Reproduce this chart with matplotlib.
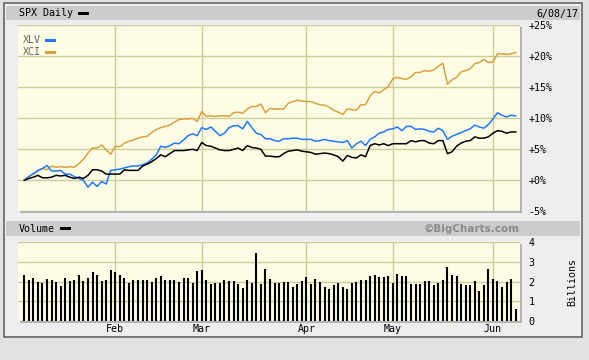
import matplotlib
matplotlib.use("Agg")
import matplotlib.pyplot as plt
from matplotlib.patches import Rectangle

# daily % change since Jan 3 2017, one value per trading day (109 days)
xci = [0, 0.6, 1.0, 1.5, 1.9, 1.7, 2.3, 2.1, 2.2, 2.1, 2.2, 2.1, 2.7, 3.4, 4.4, 5.2, 5.2, 5.7, 4.9, 4.2,
       5.5, 5.4, 6.0, 6.3, 6.5, 6.8, 7.0, 7.1, 7.7,
       8.2, 8.5, 8.7, 8.9, 9.4, 9.8, 9.9, 9.9, 10.0, 9.5, 11.1, 10.3, 10.4, 10.3, 10.4, 10.4, 10.3, 10.9,
       11.0, 10.8, 11.5, 11.9, 11.9, 12.3, 10.9, 11.6, 11.5, 11.5,
       11.5, 12.4, 12.7, 12.9, 12.8, 12.7, 12.7, 12.4, 12.2, 12.1, 11.8, 11.3, 11.0, 10.6, 11.5, 11.4,
       11.3, 12.2, 12.2, 13.6, 14.3, 14.1, 14.6, 15.1, 16.4, 16.6,
       16.4, 16.3, 16.7, 17.4, 17.4, 17.7, 17.6, 17.8, 18.4, 18.9, 15.5, 16.2, 16.6, 17.5, 17.7, 18.0,
       18.8, 19.0, 19.5, 19.0, 19.1, 20.4, 20.4, 20.3, 20.4, 20.6]
xlv = [0, 0.6, 1.1, 1.6, 1.9, 2.4, 1.5, 1.5, 1.6, 1.0, 1.0, 0.6, 0.3, 0.0, -1.1, -0.3, -1.0, -0.2, -0.6, 1.6,
       1.7, 1.8, 2.0, 2.2, 2.3, 2.3, 2.5, 2.8, 3.4,
       4.1, 5.5, 5.3, 5.6, 6.0, 5.9, 6.5, 7.2, 7.5, 7.2, 8.5, 8.2, 8.6, 7.9, 7.2, 7.6, 8.5, 8.8, 8.8,
       8.3, 9.5, 8.5, 7.6, 7.4, 6.7, 6.7, 6.4, 6.3,
       6.7, 6.7, 6.8, 6.8, 6.6, 6.6, 6.6, 6.3, 6.4, 6.6, 6.4, 6.3, 6.2, 6.1, 6.4, 5.2, 5.9, 6.3, 5.6,
       6.6, 7.0, 7.6, 7.8, 8.2, 8.3, 8.6,
       8.0, 8.7, 8.7, 8.2, 8.3, 8.2, 7.9, 7.8, 8.4, 8.0, 6.6, 7.1, 7.4, 7.7, 8.0, 8.3, 8.9, 8.6, 8.4,
       9.0, 9.9, 10.9, 10.5, 10.2, 10.5, 10.4]
spx = [0, 0.3, 0.5, 0.8, 0.4, 0.4, 0.5, 0.8, 0.7, 0.8, 0.5, 0.3, 0.5, 0.3, 0.8, 1.7, 1.7, 1.5, 1.0, 1.0,
       1.0, 1.0, 1.7, 1.6, 1.6, 1.6, 2.3, 2.6, 3.0,
       3.5, 4.1, 3.8, 4.3, 4.8, 4.8, 4.8, 4.9, 5.0, 4.8, 6.1, 5.6, 5.5, 5.2, 4.9, 4.8, 4.8, 5.0, 5.2,
       4.8, 5.6, 5.3, 5.2, 5.0, 3.9, 3.9, 3.8, 3.8,
       4.3, 4.7, 4.8, 4.9, 4.7, 4.6, 4.5, 4.2, 4.3, 4.4, 4.3, 4.1, 3.8, 3.1, 4.0, 3.7, 3.6, 4.1, 3.8,
       5.6, 5.9, 5.7, 5.9, 5.6, 5.9, 5.9,
       5.9, 5.9, 6.4, 6.2, 6.4, 6.4, 6.0, 5.9, 6.4, 6.4, 4.3, 4.6, 5.5, 6.0, 6.3, 6.4, 7.0, 6.8, 6.8,
       7.0, 7.6, 8.0, 7.9, 7.6, 7.8, 7.8]
# SPX volume, billions
volume = [2.33, 2.1, 2.2, 1.96, 1.91, 2.16, 2.1, 1.96, 1.8, 2.2, 2.03, 2.07, 2.33, 2.03, 2.2, 2.49, 2.33,
          2.03, 2.1, 2.6, 2.49, 2.33, 2.2, 1.91, 2.1, 2.1, 2.1, 2.07, 1.96, 2.17, 2.28, 2.1, 2.1, 2.1,
          1.96, 2.2, 2.2, 1.91, 2.54, 2.6, 2.1, 1.86, 1.91, 1.91, 2.1, 2.02, 2.02, 1.86, 1.7, 2.1, 1.91,
          3.44, 1.86, 2.65,
          2.16, 1.91, 1.91, 1.96, 1.96, 1.75, 1.86, 2.02, 2.23, 1.86, 2.12, 1.96, 1.75, 1.65, 1.81, 1.91,
          1.75, 1.65, 1.91, 1.96, 2.1, 2.07, 2.28, 2.33, 2.23, 2.23, 2.28, 1.91, 2.39, 2.28, 2.28, 1.86,
          1.86, 1.86, 2.02, 2.02, 1.81, 1.91, 2.07, 2.75, 2.33, 2.28, 1.86, 1.81, 1.81, 2.02, 1.54, 1.81,
          2.65, 2.12, 2.02, 1.75, 1.96, 2.12, 0.63]
month_idx = [20, 39, 62, 81, 103]
month_names = ["Feb", "Mar", "Apr", "May", "Jun"]
pct_ticks = [-5, 0, 5, 10, 15, 20, 25]
vol_ticks = [0, 1, 2, 3, 4]

W, H = 589, 360
BLUE = "#1f78ff"
GOLD = "#d9a13e"
GRID = "#cccc96"
PANEL = "#fdfde6"
FONT = "DejaVu Sans Mono"
days = list(range(len(spx)))

fig = plt.figure(figsize=(W / 100, H / 100), dpi=100, facecolor="#e2e2e2")


def px_axes(x0, y0, x1, y1, **kw):
    return fig.add_axes([x0 / W, 1 - y1 / H, (x1 - x0) / W, (y1 - y0) / H], **kw)


# background layer drawn in pixel coordinates
bg = px_axes(0, 0, W, H, zorder=0)
bg.set_xlim(0, W)
bg.set_ylim(H, 0)
bg.axis("off")
bg.add_patch(Rectangle((4, 3), 578, 334, facecolor="#eeeeee", edgecolor="#666666", lw=1.2))
bg.add_patch(Rectangle((6, 6), 574, 14, facecolor="#cccccc", edgecolor="none"))
bg.add_patch(Rectangle((6, 221), 574, 15, facecolor="#cccccc", edgecolor="none"))
# thin shadows under the plot areas
bg.add_patch(Rectangle((19.5, 26.5), 502, 186.5, facecolor="#b4b4b4", edgecolor="none"))
bg.add_patch(Rectangle((19.5, 243.5), 502, 79, facecolor="#b4b4b4", edgecolor="none"))

bg.text(19, 13.5, "SPX Daily", fontsize=7.2, family=FONT, va="center")
bg.add_patch(Rectangle((78, 12), 11, 3, facecolor="black"))
bg.text(578, 13.5, "6/08/17", fontsize=7.2, family=FONT, va="center", ha="right")
bg.text(19, 228.5, "Volume", fontsize=7.2, family=FONT, va="center")
bg.add_patch(Rectangle((60, 227), 11, 3, facecolor="black"))
bg.text(520, 228.5, "\u00a9BigCharts.com", fontsize=7.5, fontweight="bold", color="#8a8a8a",
        va="center", ha="right")
bg.text(572, 282, "Billions", fontsize=7.2, family=FONT, rotation=90, va="center", ha="center")
for i, name in zip(month_idx, month_names):
    bg.text(24.3 + 4.55 * i, 329, name, fontsize=7.2, family=FONT, va="center", ha="center")

xlim = (-1.38, 108.95)

# price panel
ax = px_axes(18, 25.3, 520, 211.3, zorder=1)
ax.set_facecolor(PANEL)
ax.plot(days, xci, color=GOLD, lw=1.1)
ax.plot(days, xlv, color=BLUE, lw=1.1)
ax.plot(days, spx, color="black", lw=1.1)
ax.set_xlim(*xlim)
ax.set_ylim(-5, 25)
ax.set_xticks(month_idx)
ax.set_xticklabels([])
ax.set_yticks(pct_ticks)
ax.set_yticklabels(["%+d%%" % t for t in pct_ticks], family=FONT, fontsize=7.2)
ax.yaxis.tick_right()
ax.tick_params(length=0, pad=6)
ax.grid(True, color=GRID, lw=1)
for s in ax.spines.values():
    s.set_visible(False)
ax.text(0.01, 0.92, "XLV", transform=ax.transAxes, fontsize=7.2, family=FONT, color="#666666", va="center")
ax.text(0.01, 0.855, "XCI", transform=ax.transAxes, fontsize=7.2, family=FONT, color="#666666", va="center")
ax.add_patch(Rectangle((0.054, 0.912), 0.022, 0.016, transform=ax.transAxes, facecolor=BLUE))
ax.add_patch(Rectangle((0.054, 0.847), 0.022, 0.016, transform=ax.transAxes, facecolor=GOLD))

# volume panel
av = px_axes(18, 242, 520, 321, zorder=1)
av.set_facecolor(PANEL)
av.vlines(days, 0, volume, color="black", lw=1.5)
av.set_xlim(*xlim)
av.set_ylim(0, 4.02)
av.set_xticks(month_idx)
av.set_xticklabels([])
av.set_yticks(vol_ticks)
av.set_yticklabels([str(t) for t in vol_ticks], family=FONT, fontsize=7.2)
av.yaxis.tick_right()
av.tick_params(length=0, pad=6)
av.grid(True, color=GRID, lw=1)
for s in av.spines.values():
    s.set_visible(False)

fig.savefig("out.png", dpi=100, facecolor=fig.get_facecolor())
